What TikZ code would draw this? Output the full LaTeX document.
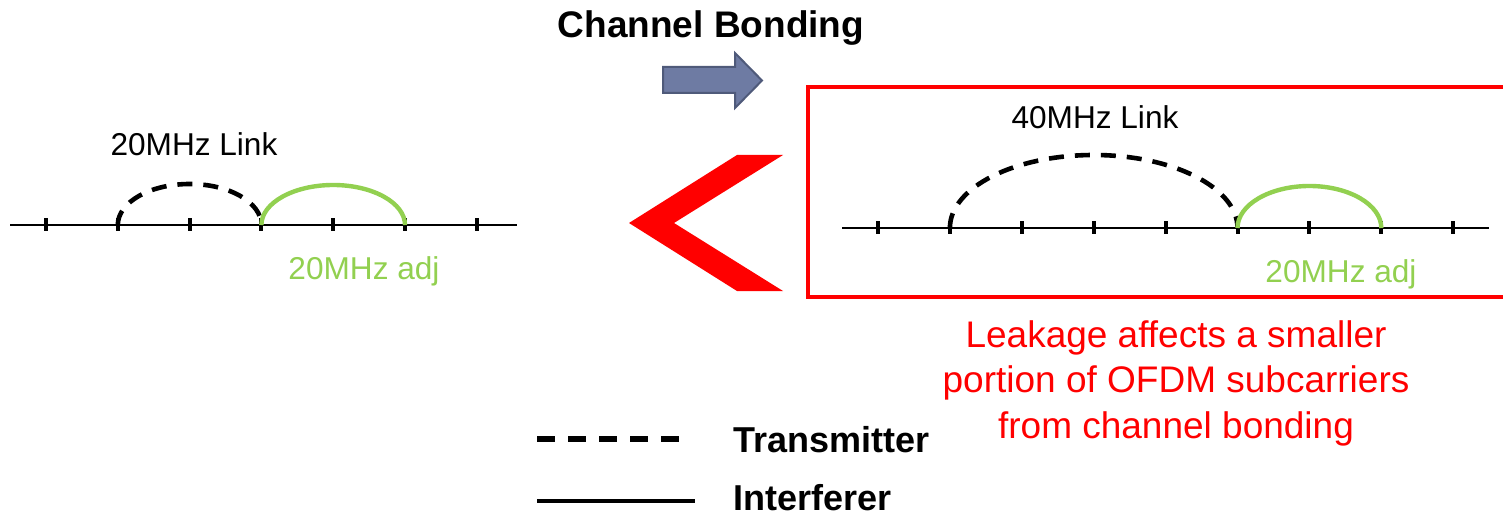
\documentclass[tikz,border=0pt]{standalone}
\usepackage{fontspec}
\setmainfont{Liberation Sans}
\usetikzlibrary{positioning}
\definecolor{alarm}{HTML}{FF0000}
\definecolor{adjgreen}{HTML}{92D050}
\definecolor{bondfill}{HTML}{6E7BA3}
\definecolor{bonddraw}{HTML}{4F5A7A}

\begin{document}
\begin{tikzpicture}[
      x=0.5pt, y=-0.5pt,
      lbl/.style={font=\fontsize{15.8}{19}\selectfont, inner sep=0pt, anchor=base},
      legend/.style={font=\fontsize{18}{22}\selectfont\bfseries, inner sep=0pt, anchor=base west},
      axisline/.style={line width=1.4pt, draw=black},
      tickmark/.style={line width=2pt, draw=black},
      txlink/.style={line width=2.3pt, dash pattern=on 7.5pt off 5.5pt},
      adjlink/.style={line width=2.2pt, draw=adjgreen},
      txlegend/.style={line width=2.8pt, dash pattern=on 9pt off 6.5pt},
      iflegend/.style={line width=2.3pt}
  ]
    \useasboundingbox (0,0) rectangle (1503,518);
    % 20MHz channel
    \draw[axisline] (10,225) -- (517,225);
    \foreach \i in {0,...,6} {
      \coordinate (lt\i) at (46+71.8*\i,225);
      \draw[tickmark] (lt\i) ++(0,-6.5) -- ++(0,13);
    }
    \draw[txlink] (lt1) arc[start angle=180, end angle=360, x radius=71.8, y radius=41];
    \draw[adjlink] (lt3) arc[start angle=180, end angle=360, x radius=71.8, y radius=40];
    \node[lbl] (link20) at (194,156) {20MHz Link};
    \node[lbl, text=adjgreen] (adjl) at (364,279) {20MHz adj};
    % channel bonding arrow
    \node[font=\fontsize{18.5}{22}\selectfont\bfseries, inner sep=0pt, anchor=base] (bond) at (711,38) {Channel Bonding};
    \draw[line width=1pt, draw=bonddraw, fill=bondfill]
      (663,67) -- (735,67) -- (735,53) -- (762,80.5) -- (735,108) -- (735,93) -- (663,93) -- cycle;
    % comparison mark
    \fill[alarm] (737,155) -- (629,223) -- (737,291) -- (783,291) -- (674,223) -- (783,155) -- cycle;
    % 40MHz channel
    \draw[alarm, line width=1.6pt] (1504,87) -- (808,87) -- (808,297) -- (1504,297);
    \draw[axisline] (842,228) -- (1489,228);
    \foreach \i in {0,...,8} {
      \coordinate (rt\i) at (878+71.9*\i,228);
      \draw[tickmark] (rt\i) ++(0,-6.5) -- ++(0,13);
    }
    \draw[txlink] (rt1) arc[start angle=180, end angle=360, x radius=143.8, y radius=73];
    \draw[adjlink] (rt5) arc[start angle=180, end angle=360, x radius=71.9, y radius=42];
    \node[lbl] (link40) at (1095,129) {40MHz Link};
    \node[lbl, text=adjgreen] (adjr) at (1341,282) {20MHz adj};
    \node[font=\fontsize{18.5}{22.75}\selectfont, text=alarm, align=center, inner sep=0pt] (leak) at (1176,383)
      {Leakage affects a smaller\\portion of OFDM subcarriers\\from channel bonding};
    % legend
    \node[legend] (lgtx) at (733,452) {Transmitter};
    \node[legend] (lgif) at (733,510) {Interferer};
    \draw[txlegend] ([xshift=-98pt]lgtx.west) -- ([xshift=-25pt]lgtx.west);
    \draw[iflegend] ([xshift=-98pt,yshift=-2pt]lgif.west) -- ([xshift=-19pt,yshift=-2pt]lgif.west);
  \end{tikzpicture}
\end{document}
